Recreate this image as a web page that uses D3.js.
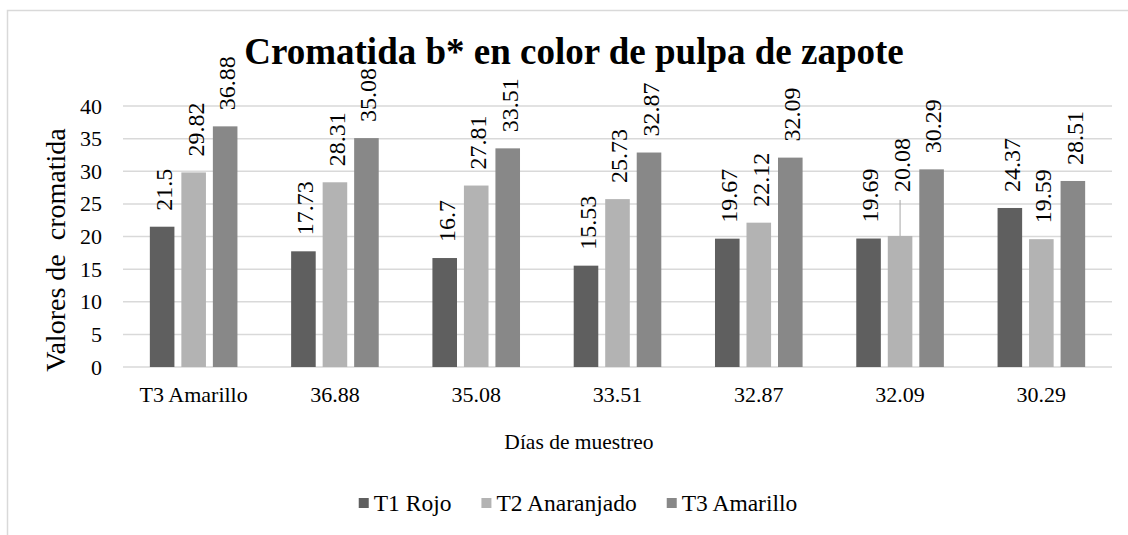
<!DOCTYPE html>
<html>
<head>
<meta charset="utf-8">
<script src="https://cdn.jsdelivr.net/npm/d3@7"></script>
<style>
  body { margin: 0; background: #fff; }
</style>
</head>
<body>
<div id="chart"></div>
<script>
const categories = ["T3 Amarillo", "36.88", "35.08", "33.51", "32.87", "32.09", "30.29"];
const series = ["T1 Rojo", "T2 Anaranjado", "T3 Amarillo"];
const t1Rojo = [21.5, 17.73, 16.7, 15.53, 19.67, 19.69, 24.37];
const t2Anaranjado = [29.82, 28.31, 27.81, 25.73, 22.12, 20.08, 19.59];
const t3Amarillo = [36.88, 35.08, 33.51, 32.87, 32.09, 30.29, 28.51];
const yTicks = [0, 5, 10, 15, 20, 25, 30, 35, 40];

const values = [t1Rojo, t2Anaranjado, t3Amarillo];
const colors = ["#5f5f5f", "#b3b3b3", "#888888"];
const FONT = "'Liberation Serif', 'Times New Roman', serif";

const width = 1128, height = 535;
const svg = d3.select("#chart").append("svg")
    .attr("width", width)
    .attr("height", height)
    .style("font-family", FONT);

// marco del grafico
svg.append("rect")
    .attr("x", 7.5).attr("y", 10.5)
    .attr("width", 1130).attr("height", 540)
    .attr("fill", "none")
    .attr("stroke", "#d9d9d9")
    .attr("stroke-width", 1.5);

const x0 = d3.scaleBand()
    .domain(categories)
    .range([123, 1112])
    .paddingInner(0.38)
    .paddingOuter(0.19);

const x1 = d3.scaleBand()
    .domain(series)
    .range([0, x0.bandwidth()])
    .paddingInner(0.22);

const y = d3.scaleLinear()
    .domain([0, 40])
    .range([367, 106]);

// lineas de la cuadricula
svg.append("g")
    .selectAll("line")
    .data(yTicks)
    .enter().append("line")
    .attr("x1", 123)
    .attr("x2", 1112)
    .attr("y1", d => y(d))
    .attr("y2", d => y(d))
    .attr("stroke", "#d9d9d9")
    .attr("stroke-width", 1.5);

const yAxis = svg.append("g")
    .attr("transform", "translate(123,0)")
    .call(d3.axisLeft(y).tickValues(yTicks).tickSize(0).tickPadding(21));
yAxis.select(".domain").remove();
yAxis.selectAll("text")
    .attr("fill", "#000")
    .style("font-size", "22px")
    .style("font-family", FONT);

const xAxis = svg.append("g")
    .attr("transform", "translate(0,367)")
    .call(d3.axisBottom(x0).tickSize(0).tickPadding(19));
xAxis.select(".domain").remove();
xAxis.selectAll("text")
    .attr("fill", "#000")
    .style("font-size", "22px")
    .style("font-family", FONT);

// barras
const groups = svg.append("g")
    .selectAll("g")
    .data(categories)
    .enter().append("g")
    .attr("transform", d => "translate(" + x0(d) + ",0)");

groups.each(function (cat, ci) {
    const g = d3.select(this);
    series.forEach((s, si) => {
        const v = values[si][ci];
        g.append("rect")
            .attr("x", x1(s))
            .attr("y", y(v))
            .attr("width", x1.bandwidth())
            .attr("height", y(0) - y(v))
            .attr("fill", colors[si]);

        // la etiqueta 20.08 fue desplazada hacia arriba con linea guia
        const lifted = (ci === 5 && si === 1);
        const shift = lifted ? 28 : 0;
        const lx = x1(s) + x1.bandwidth() / 2;
        const ly = y(v) - 16 - shift;
        if (lifted) {
            g.append("line")
                .attr("x1", lx).attr("x2", lx)
                .attr("y1", y(v)).attr("y2", ly + 8)
                .attr("stroke", "#a6a6a6")
                .attr("stroke-width", 1);
        }
        g.append("text")
            .attr("transform", "translate(" + (lx + 1.5) + "," + ly + ") rotate(-90)")
            .attr("dy", "0.35em")
            .style("font-size", "24px")
            .style("font-family", FONT)
            .attr("fill", "#000")
            .text(v);
    });
});

// titulos
svg.append("text")
    .attr("x", 574).attr("y", 64)
    .attr("text-anchor", "middle")
    .style("font-size", "37px")
    .style("font-weight", "bold")
    .style("font-family", FONT)
    .text("Cromatida b* en color de pulpa de zapote");

svg.append("text")
    .attr("transform", "translate(55,250) rotate(-90)")
    .attr("text-anchor", "middle")
    .attr("dy", "0.35em")
    .style("font-size", "28px")
    .style("font-family", FONT)
    .style("white-space", "pre")
    .text("Valores de  cromatida");

svg.append("text")
    .attr("x", 579).attr("y", 449)
    .attr("text-anchor", "middle")
    .style("font-size", "21.5px")
    .style("font-family", FONT)
    .text("Días de muestreo");

// leyenda centrada
const legend = svg.append("g");
const items = legend.selectAll("g")
    .data(series)
    .enter().append("g");

items.append("rect")
    .attr("y", 498)
    .attr("width", 10).attr("height", 10)
    .attr("fill", (d, i) => colors[i]);

items.append("text")
    .attr("x", 15).attr("y", 511)
    .style("font-size", "23.5px")
    .style("font-family", FONT)
    .text(d => d);

let cursor = 0;
items.each(function () {
    const w = 15 + d3.select(this).select("text").node().getComputedTextLength();
    d3.select(this).attr("transform", "translate(" + cursor + ",0)");
    cursor += w + 30;
});
const legendWidth = cursor - 30;
legend.attr("transform", "translate(" + (578 - legendWidth / 2) + ",0)");
</script>
</body>
</html>
